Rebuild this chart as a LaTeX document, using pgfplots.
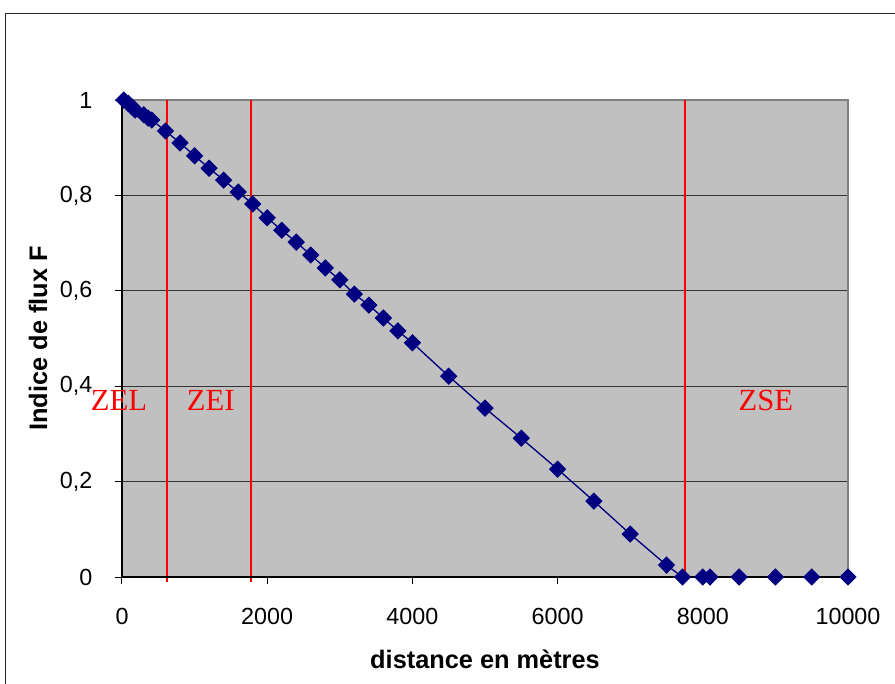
\documentclass[border=0pt]{standalone}
\usepackage{fontspec}
\setmainfont{Liberation Sans}
\newfontfamily\timesfont{Liberation Serif}
\usepackage{pgfplots}
\pgfplotsset{compat=1.18}
\definecolor{navyblue}{RGB}{0,0,128}
\definecolor{plotgray}{RGB}{192,192,192}
\begin{document}
\begin{tikzpicture}
\useasboundingbox (-91.5pt,-79.5pt) rectangle (579.75pt,432.75pt);
\draw[line width=1pt, black!85] (-87.2pt,-90pt) -- (-87.2pt,422.8pt) -- (600pt,422.8pt);
\begin{axis}[
  at={(0,0)}, anchor=south west,
  scale only axis, width=544.5pt, height=357.75pt,
  xmin=0, xmax=10000, ymin=0, ymax=1,
  xtick={0,2000,...,10000}, ytick={0,0.2,0.4,0.6,0.8,1},
  scaled x ticks=false,
  ymajorgrids, major grid style={gray!40!black, line width=0.75pt},
  axis background/.style={fill=plotgray},
  axis line style={draw=gray, line width=1pt},
  tick style={black, line width=0.75pt},
  tick align=outside, major tick length=5.5pt,
  xtick pos=bottom, ytick pos=left,
  clip=false,
  /pgf/number format/.cd, use comma, 1000 sep={}, assume math mode=true,
  /pgfplots/.cd,
  ticklabel style={font=\fontsize{17.5}{20}\selectfont},
  xticklabel style={anchor=center, yshift=-24pt},
  yticklabel style={anchor=east, inner sep=0pt, xshift=-16.5pt},
  xlabel={distance en mètres}, ylabel={Indice de flux F},
  label style={font=\bfseries\fontsize{19}{22}\selectfont},
  xlabel style={at={(axis description cs:0.5,-0.1733)}, anchor=center},
  ylabel style={at={(axis description cs:-0.1157,0.5)}, anchor=center},
]
\addplot[red, line width=1.5pt] coordinates {(620,-0.01) (620,1)};
\addplot[red, line width=1.5pt] coordinates {(1780,-0.01) (1780,1)};
\addplot[red, line width=1.5pt] coordinates {(7755,-0.01) (7755,1)};
\addplot[navyblue, line width=1pt, mark=diamond*, mark size=5.8pt,
  mark options={xscale=1.33, solid, fill=navyblue}] table {
x y
25 1.000
85 0.993
135 0.986
180 0.979
300 0.969
360 0.962
410 0.958
600 0.935
800 0.910
1000 0.883
1200 0.857
1400 0.832
1600 0.807
1800 0.782
2000 0.753
2200 0.727
2400 0.702
2600 0.675
2800 0.648
3000 0.623
3200 0.593
3400 0.570
3600 0.543
3800 0.516
4000 0.491
4500 0.421
5000 0.354
5500 0.291
6000 0.226
6500 0.159
7000 0.090
7500 0.025
7720 0
8000 0
8100 0
8500 0
9000 0
9500 0
10000 0
};
\draw[black, line width=1pt] (rel axis cs:0,1) -- (rel axis cs:0,0) -- (rel axis cs:1,0);
\node[red, font=\timesfont\fontsize{23}{26}\selectfont] at (axis cs:-41,0.371) {ZEL};
\node[red, font=\timesfont\fontsize{23}{26}\selectfont] at (axis cs:1222,0.371) {ZEI};
\node[red, font=\timesfont\fontsize{23}{26}\selectfont] at (axis cs:8868,0.371) {ZSE};
\end{axis}
\end{tikzpicture}
\end{document}
